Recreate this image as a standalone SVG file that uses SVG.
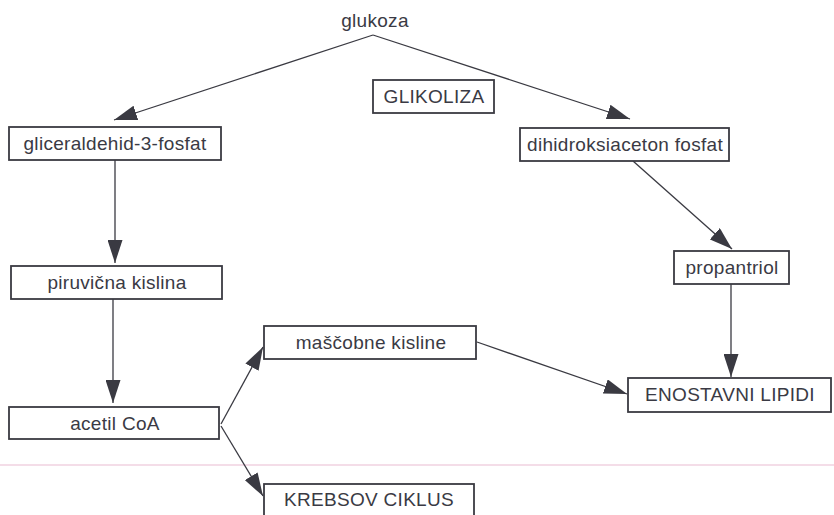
<svg xmlns="http://www.w3.org/2000/svg" width="834" height="515" viewBox="0 0 834 515">
  <style>
    .box { fill: #ffffff; stroke: #3a3a42; stroke-width: 1.8; }
    .lbl { font-family: "Liberation Sans", Arial, sans-serif; font-size: 19px; letter-spacing: 0.3px; fill: #3a3a44; text-anchor: middle; }
    .edge { stroke: #3a3a42; stroke-width: 1.3; fill: none; marker-end: url(#head); }
  </style>
  <defs>
    <marker id="head" viewBox="0 0 23 15" refX="23" refY="7.5" markerWidth="23" markerHeight="15" markerUnits="userSpaceOnUse" orient="auto">
      <path d="M0,0 L23,7.5 L0,15 Z" fill="#3a3a42"/>
    </marker>
  </defs>
  <rect width="834" height="515" fill="#ffffff"/>
  <!-- faint ruling across the page -->
  <line x1="0" y1="465" x2="834" y2="465" stroke="#f4dde8" stroke-width="2"/>

  <g id="connectors">
    <line class="edge" x1="373" y1="35" x2="114" y2="120"/>
    <line class="edge" x1="373" y1="35" x2="630" y2="119"/>
    <line class="edge" x1="115" y1="160" x2="115" y2="263"/>
    <line class="edge" x1="113" y1="299" x2="113" y2="403"/>
    <line class="edge" x1="633" y1="161" x2="732" y2="249"/>
    <line class="edge" x1="731" y1="284" x2="731" y2="377"/>
    <line class="edge" x1="477" y1="342" x2="627" y2="394"/>
    <line class="edge" x1="221" y1="424" x2="263" y2="347"/>
    <line class="edge" x1="221" y1="426" x2="263" y2="496"/>
  </g>

  <g id="glukoza">
    <text class="lbl" x="375" y="27">glukoza</text>
  </g>
  <g id="glikoliza">
    <rect class="box" x="373" y="80" width="121" height="33"/>
    <text class="lbl" x="434" y="103">GLIKOLIZA</text>
  </g>
  <g id="gliceraldehid">
    <rect class="box" x="9" y="127" width="212" height="33"/>
    <text class="lbl" x="115" y="150">gliceraldehid-3-fosfat</text>
  </g>
  <g id="dihidroksiaceton">
    <rect class="box" x="520" y="128" width="209" height="33"/>
    <text class="lbl" x="625" y="151">dihidroksiaceton fosfat</text>
  </g>
  <g id="piruvicna">
    <rect class="box" x="11" y="266" width="211" height="33"/>
    <text class="lbl" x="117" y="289">piruvična kislina</text>
  </g>
  <g id="propantriol">
    <rect class="box" x="674" y="251" width="115" height="33"/>
    <text class="lbl" x="732" y="274">propantriol</text>
  </g>
  <g id="mascobne">
    <rect class="box" x="264" y="326" width="212" height="33"/>
    <text class="lbl" x="371" y="349">maščobne kisline</text>
  </g>
  <g id="acetil">
    <rect class="box" x="9" y="407" width="210" height="32"/>
    <text class="lbl" x="115" y="430">acetil CoA</text>
  </g>
  <g id="enostavni">
    <rect class="box" x="628" y="378" width="203" height="34"/>
    <text class="lbl" x="730" y="401">ENOSTAVNI LIPIDI</text>
  </g>
  <g id="krebsov">
    <rect class="box" x="264" y="484" width="210" height="34"/>
    <text class="lbl" x="369" y="506">KREBSOV CIKLUS</text>
  </g>
</svg>
